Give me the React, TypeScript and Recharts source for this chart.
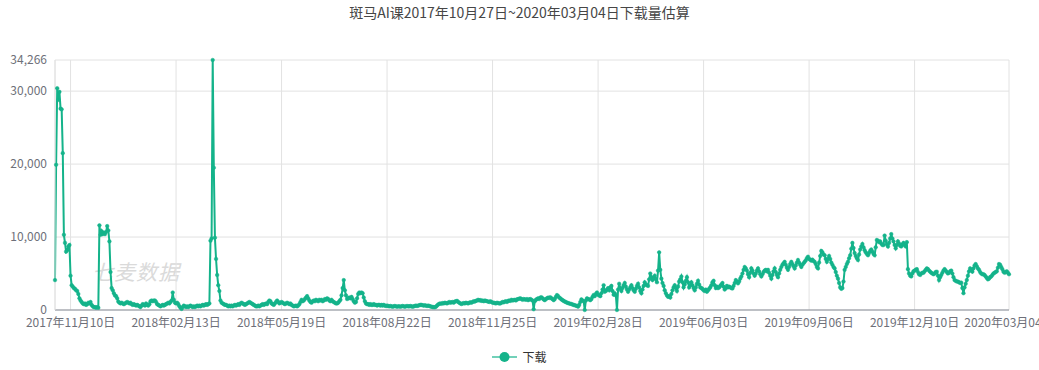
import React from "react";
import { LineChart, Line, XAxis, YAxis, CartesianGrid } from "recharts";

const lineColor = "#14b38a";

// daily downloads, 2017-10-27 .. 2020-03-04, split into blocks ending on each axis label
const block1 = [
  4100, 19900, 30400, 28800, 29900, 27600, 27500, 21500, 10300, 9200,
  8000, 8200, 8700, 8900, 4700, 3400, 3200, 3000, 2900, 2700,
  2600, 2200, 1600, 1300, 1100, 900, 800, 900, 700, 800,
  1000, 900, 1100, 700, 500, 400, 400, 300, 400, 300,
  11600, 10300, 10800, 10400, 10600, 10400, 10700, 11500, 10900, 9400,
  5200, 3000, 2700, 2300, 2000, 1900, 1600, 1150, 1000, 900,
  1000, 900, 800, 900, 1000, 1100, 1000, 900, 1000, 800,
  700, 800, 700, 600, 700, 600, 500, 400, 600, 800,
  700, 600, 900, 700, 600, 800, 1200, 1300, 1200, 1300,
  1300, 1100, 800, 700, 600, 500, 600, 700, 600, 700,
  800, 900, 1000, 900, 1100, 1300, 2400, 1400, 1000, 900,
];
const block2 = [
  1000, 800, 500, 300, 150, 400, 600, 500, 400, 500,
  400, 500, 600, 500, 400, 500, 400, 500, 600, 500,
  600, 500, 600, 700, 600, 700, 800, 700, 800, 900,
  9500, 9800, 34266, 19500, 9900, 7000, 4800, 3400, 2600, 1300,
  1000, 900, 800, 700, 700, 600, 500, 600, 500, 600,
  500, 600, 700, 600, 700, 800, 700, 900, 1000, 900,
  800, 700, 800, 900, 1000, 1100, 1000, 900, 800, 700,
  600, 500, 500, 600, 500, 600, 700, 800, 700, 800,
  900, 800, 1100, 1300, 1200, 900, 800, 700, 900, 1100,
  1300, 1100, 900, 1000, 1100,
];
const block3 = [
  1000, 900, 800, 900, 1000, 900, 800, 900, 700, 600,
  500, 550, 600, 500, 600, 800, 1100, 1400, 1200, 1300,
  1500, 1700, 1900, 1600, 1300, 1100, 1000, 1200, 1300, 1200,
  1400, 1300, 1200, 1400, 1300, 1400, 1200, 1300, 1500, 1400,
  1600, 1500, 1300, 1200, 1400, 1200, 1100, 1000, 900, 900,
  1000, 1200, 1400, 2000, 3000, 4100, 2700, 2000, 1500, 1600,
  1700, 1600, 1800, 1500, 1200, 1000, 1100, 1600, 2200, 2400,
  2300, 2400, 2300, 1700, 1200, 900, 800, 800, 700, 800,
  700, 700, 800, 700, 700, 600, 700, 700, 600, 700,
  600, 700, 600, 550, 600,
];
const block4 = [
  550, 500, 550, 500, 450, 500, 550, 500, 450, 500,
  500, 450, 500, 550, 500, 450, 500, 550, 500, 500,
  550, 500, 450, 500, 550, 600, 550, 600, 650, 700,
  700, 650, 600, 650, 600, 550, 600, 550, 500, 450,
  400, 400, 370, 450, 600, 750, 850, 900, 850, 950,
  900, 1000, 950, 900, 1000, 1100, 1000, 1050, 1100, 1000,
  1150, 1200, 1250, 1100, 1000, 900, 820, 900, 950, 900,
  1000, 950, 900, 1000, 1050, 1000, 1100, 1200, 1150, 1250,
  1300, 1400, 1300, 1350, 1250, 1300, 1200, 1300, 1250, 1200,
  1150, 1100, 1200, 1100, 1000,
];
const block5 = [
  1000, 950, 900, 1000, 950, 900, 900, 1000, 1100, 1050,
  1150, 1200, 1100, 1250, 1300, 1250, 1400, 1300, 1350, 1400,
  1300, 1450, 1500, 1550, 1600, 1500, 1400, 1500, 1450, 1400,
  1500, 1350, 1450, 1500, 1400, 1300, 100, 1200, 1400, 1500,
  1600, 1500, 1700, 1750, 1600, 1450, 1350, 1500, 1600, 1700,
  1650, 1750, 1600, 1500, 1350, 1500, 1800, 2050, 1900, 1700,
  1600, 1450, 1350, 1250, 1150, 1100, 1000, 950, 900, 850,
  820, 750, 700, 650, 600, 550, 460, 700, 1100, 1450,
  1300, 1200, 0, 1300, 1600, 1500, 1450, 1350, 1500, 1800,
  2050, 1900, 2200, 2400, 2100,
];
const block6 = [
  2000, 1900, 2300, 2800, 3400, 2500, 2600, 2800, 3000, 2700,
  3100, 3300, 2600, 2100, 2300, 2000, 0, 2800, 3600, 3000,
  2600, 3000, 3400, 3700, 3200, 2800, 2500, 2800, 3100, 3400,
  3000, 2700, 2500, 2900, 3300, 3600, 3100, 2600, 2300, 2800,
  3300, 3800, 3500, 3400, 3300, 4200, 5000, 4500, 4100, 4400,
  4700, 4200, 3800, 5400, 7900, 5500, 4300, 3700, 3300, 2700,
  2300, 2000, 1800, 1900, 1700, 2200, 2700, 3100, 3400, 3000,
  2600, 3200, 3900, 4200, 4600, 3800, 3100, 3500, 4000, 4500,
  3800, 3100, 3400, 3800, 3400, 3000, 2700, 3100, 3600, 4000,
  3500, 3100, 3000, 2900, 2700,
];
const block7 = [
  2600, 2800, 2500, 2700, 2900, 3100, 3400, 3800, 4000, 3400,
  3000, 3200, 3000, 3100, 3300, 3500, 3700, 3200, 2800, 3000,
  3300, 3100, 3200, 3100, 3000, 2950, 3300, 3700, 4100, 3900,
  3650, 3900, 4300, 4600, 5000, 5500, 5900, 5700, 5400, 4900,
  4500, 5100, 5700, 5400, 5000, 4700, 5000, 5400, 5700, 5300,
  4900, 4600, 4900, 5200, 5400, 5500, 5300, 5500, 5100, 4700,
  4300, 4800, 5300, 5700, 5200, 4800, 4500, 5000, 5500, 5900,
  6200, 6400, 6600, 6200, 5800, 5500, 5900, 6300, 6600, 6300,
  6000, 5700, 6100, 6500, 6850, 6500, 6200, 5900, 6200, 6400,
  6600, 6800, 7100, 7300, 7000,
];
const block8 = [
  6900, 6760, 6900, 6700, 6600, 6300, 5900, 5700, 6500, 7400,
  8100, 7900, 7600, 7500, 7000, 6600, 7000, 7400, 7000, 6500,
  6200, 5900, 5700, 5200, 4700, 4300, 3700, 3100, 2900, 3000,
  3900, 5500, 5900, 6300, 6600, 7100, 7500, 8400, 9200, 8500,
  7800, 7400, 7100, 6850, 7600, 8300, 8700, 9050, 8600, 8200,
  7900, 7700, 7500, 7800, 8100, 8300, 8000, 7700, 7500, 8600,
  9600, 9500, 9300, 9400, 9100, 8900, 8900, 10200, 9500, 9000,
  8700, 9200, 9800, 10400, 9800, 9400, 8900, 8450, 8900, 9400,
  9100, 8800, 8700, 9000, 9200, 8900, 8700, 9300, 5600, 5000,
  4700, 4600, 5000, 5300, 5400,
];
const block9 = [
  5500, 5600, 5200, 4900, 4800, 5000, 5100, 5100, 5300, 5500,
  5700, 5600, 5400, 5250, 5100, 5000, 4900, 5000, 5200, 5250,
  4700, 4100, 4500, 4800, 5100, 5400, 5600, 5400, 5200, 5000,
  5100, 5300, 5400, 5000, 4500, 4100, 4000, 3900, 3900, 3800,
  3700, 3750, 3000, 2300, 3100, 3600, 4100, 4700, 5300, 5700,
  5500, 5250, 5700, 6100, 6300, 6000, 5700, 5500, 5200, 5000,
  4900, 4900, 4800, 4600, 4400, 4200, 4300, 4500, 4600, 4800,
  5000, 5100, 5200, 5300, 5800, 6300, 6200, 5900, 5600, 5250,
  5100, 5200, 5300, 5100, 4900,
];

const xTicks = [
  "2017年11月10日",
  "2018年02月13日",
  "2018年05月19日",
  "2018年08月22日",
  "2018年11月25日",
  "2019年02月28日",
  "2019年06月03日",
  "2019年09月06日",
  "2019年12月10日",
  "2020年03月04日",
];
const yTicks = [0, 10000, 20000, 30000, 34266];

const downloads = [
  ...block1, ...block2, ...block3, ...block4, ...block5,
  ...block6, ...block7, ...block8, ...block9,
];

const start = Date.UTC(2017, 9, 27);
const pad = (n: number) => String(n).padStart(2, "0");
const dayLabel = (i: number) => {
  const d = new Date(start + i * 86400000);
  return `${d.getUTCFullYear()}年${pad(d.getUTCMonth() + 1)}月${pad(d.getUTCDate())}日`;
};

const data = downloads.map((count, i) => ({ date: dayLabel(i), count }));

export default function App() {
  return (
    <div
      style={{
        position: "absolute",
        left: 0,
        top: 0,
        width: 1039,
        height: 370,
        background: "#fff",
        fontFamily: '"Noto Sans CJK SC", sans-serif',
      }}
    >
      <div
        style={{
          position: "absolute",
          top: 3,
          left: 0,
          width: 1039,
          textAlign: "center",
          fontSize: 14,
          lineHeight: "18px",
          color: "#464646",
        }}
      >
        斑马AI课2017年10月27日~2020年03月04日下载量估算
      </div>
      <div
        style={{
          position: "absolute",
          left: 92,
          top: 256,
          fontSize: 21,
          color: "#dadada",
          fontStyle: "italic",
          letterSpacing: 1,
        }}
      >
        七麦数据
      </div>
      <LineChart
        width={1039}
        height={370}
        data={data}
        margin={{ top: 60, right: 30, bottom: 0, left: 0 }}
        style={{ position: "absolute", left: 0, top: 0 }}
      >
        <CartesianGrid stroke="#e2e2e2" vertical={true} />
        <XAxis
          dataKey="date"
          ticks={xTicks}
          interval={0}
          height={60}
          tickLine={false}
          axisLine={{ stroke: "#8a8f99" }}
          tick={{ fill: "#6e7079", fontSize: 12 }}
        />
        <YAxis
          width={55}
          domain={[0, 34266]}
          ticks={yTicks}
          interval={0}
          tickLine={false}
          axisLine={{ stroke: "#e2e2e2" }}
          tick={{ fill: "#6e7079", fontSize: 12 }}
          tickFormatter={(v: number) => v.toLocaleString("en-US")}
        />
        <Line
          type="linear"
          dataKey="count"
          stroke={lineColor}
          strokeWidth={2}
          dot={{ r: 1.8, fill: lineColor, stroke: lineColor, strokeWidth: 0.5 }}
          isAnimationActive={false}
        />
      </LineChart>
      <div
        style={{
          position: "absolute",
          top: 350,
          left: 0,
          width: 1039,
          display: "flex",
          justifyContent: "center",
          alignItems: "center",
          fontSize: 12,
          color: "#333",
        }}
      >
        <svg width={25} height={14}>
          <line x1={0} y1={7} x2={25} y2={7} stroke={lineColor} strokeOpacity={0.6} strokeWidth={2} />
          <circle cx={12.5} cy={7} r={5} fill={lineColor} />
        </svg>
        <span style={{ marginLeft: 5, lineHeight: "14px" }}>下载</span>
      </div>
    </div>
  );
}
